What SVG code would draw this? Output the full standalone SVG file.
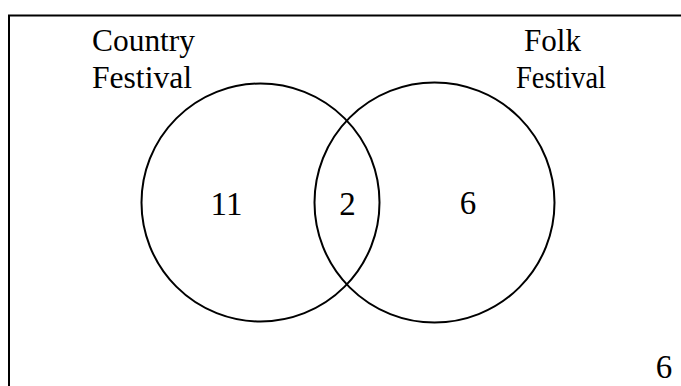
<svg xmlns="http://www.w3.org/2000/svg" width="681" height="386" viewBox="0 0 681 386">
<style>
.t{font-family:"Liberation Serif","Times New Roman",serif;font-size:32px;fill:#000}
.n{font-family:"Liberation Serif","Times New Roman",serif;font-size:33px;fill:#000;text-anchor:middle}
.c{fill:none;stroke:#000;stroke-width:2}
</style>
<rect x="0" y="0" width="681" height="386" fill="#fff"/>
<g id="frame"><path d="M9 400 V15.5 H700" fill="none" stroke="#000" stroke-width="2"/></g>
<g id="country">
<circle class="c" cx="260.5" cy="202.5" r="119"/>
<text class="t" x="92" y="51" textLength="103" lengthAdjust="spacingAndGlyphs">Country</text>
<text class="t" x="92" y="87.5" textLength="100" lengthAdjust="spacingAndGlyphs">Festival</text>
</g>
<g id="folk">
<circle class="c" cx="434.5" cy="202.5" r="120"/>
<text class="t" x="524" y="51" textLength="57" lengthAdjust="spacingAndGlyphs">Folk</text>
<text class="t" x="516" y="87.5" textLength="90" lengthAdjust="spacingAndGlyphs">Festival</text>
</g>
<g id="values">
<text class="n" x="226.5" y="215">11</text>
<text class="n" x="347.5" y="215">2</text>
<text class="n" x="468" y="214">6</text>
<text class="n" x="664" y="378">6</text>
</g>
<g id="connectors"></g>
</svg>
